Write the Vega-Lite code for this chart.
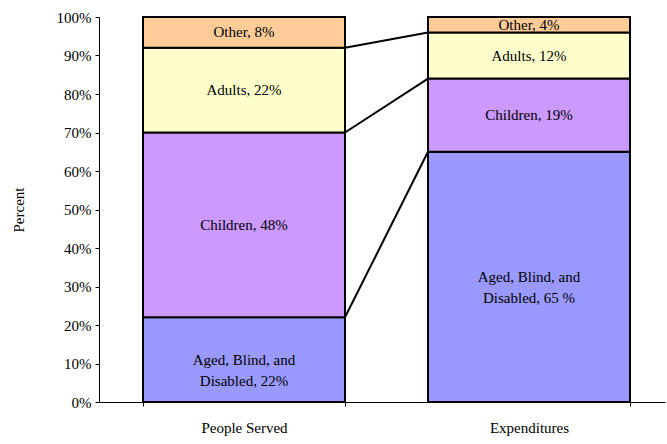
{
  "$schema": "https://vega.github.io/schema/vega-lite/v6.json",
  "width": 566,
  "height": 385,
  "autosize": "none",
  "padding": {"left": 99, "top": 17, "right": 2, "bottom": 42},
  "background": "white",
  "config": {
    "view": {"stroke": null},
    "font": "Liberation Serif",
    "axis": {"labelFont": "Liberation Serif", "titleFont": "Liberation Serif", "labelColor": "black", "titleColor": "black", "domainColor": "black", "tickColor": "black", "titleFontWeight": "normal"}
  },
  "datasets": {
    "segs": [
      {"group": "People Served", "cat": "Aged, Blind, and Disabled", "k": 1, "pct": 22, "label": "Aged, Blind, and\nDisabled, 22%"},
      {"group": "People Served", "cat": "Children", "k": 2, "pct": 48, "label": "Children, 48%"},
      {"group": "People Served", "cat": "Adults", "k": 3, "pct": 22, "label": "Adults, 22%"},
      {"group": "People Served", "cat": "Other", "k": 4, "pct": 8, "label": "Other, 8%"},
      {"group": "Expenditures", "cat": "Aged, Blind, and Disabled", "k": 1, "pct": 65, "label": "Aged, Blind, and\nDisabled, 65 %"},
      {"group": "Expenditures", "cat": "Children", "k": 2, "pct": 19, "label": "Children, 19%"},
      {"group": "Expenditures", "cat": "Adults", "k": 3, "pct": 12, "label": "Adults, 12%"},
      {"group": "Expenditures", "cat": "Other", "k": 4, "pct": 4, "label": "Other, 4%"}
    ],
    "links": [
      {"from": "People Served", "to": "Expenditures", "a": 22, "b": 65},
      {"from": "People Served", "to": "Expenditures", "a": 70, "b": 84},
      {"from": "People Served", "to": "Expenditures", "a": 92, "b": 96}
    ]
  },
  "layer": [
    {
      "data": {"name": "segs"},
      "mark": {"type": "bar", "stroke": "black", "strokeWidth": 2},
      "encoding": {
        "x": {
          "field": "group", "type": "nominal", "sort": ["People Served", "Expenditures"],
          "scale": {"domain": ["People Served", "Expenditures"], "paddingInner": 0.2912, "paddingOuter": 0.1386, "align": 0.557},
          "axis": {"title": null, "labelAngle": 0, "labelFontSize": 15, "labelPadding": 14, "tickBand": "extent", "tickSize": 4, "domainWidth": 1}
        },
        "y": {
          "field": "pct", "type": "quantitative", "stack": "zero",
          "scale": {"domain": [0, 100], "nice": false},
          "axis": {"title": "Percent", "titleFontSize": 15, "titlePadding": 30, "labelFontSize": 15, "values": [0,10,20,30,40,50,60,70,80,90,100], "labelExpr": "datum.value + '%'", "labelOverlap": false, "grid": false, "tickSize": 4, "labelPadding": 4}
        },
        "color": {
          "field": "cat", "type": "nominal", "legend": null,
          "scale": {"domain": ["Aged, Blind, and Disabled", "Children", "Adults", "Other"], "range": ["#9999FF", "#CC99FF", "#FFFFCC", "#FFCC99"]}
        },
        "order": {"field": "k", "type": "quantitative"}
      }
    },
    {
      "data": {"name": "segs"},
      "mark": {"type": "text", "lineBreak": "\n", "fontSize": 15, "color": "black", "baseline": "middle", "lineHeight": 21},
      "encoding": {
        "x": {"field": "group", "type": "nominal", "sort": ["People Served", "Expenditures"]},
        "y": {"field": "pct", "type": "quantitative", "stack": "zero", "bandPosition": 0.5,
          "axis": {"title": "Percent", "titleFontSize": 15, "titlePadding": 30, "labelFontSize": 15, "values": [0,10,20,30,40,50,60,70,80,90,100], "labelExpr": "datum.value + '%'", "labelOverlap": false, "grid": false, "tickSize": 4, "labelPadding": 4}},
        "text": {"field": "label"},
        "detail": {"field": "cat"},
        "order": {"field": "k", "type": "quantitative"}
      }
    },
    {
      "data": {"name": "links"},
      "mark": {"type": "rule", "color": "black", "strokeWidth": 2},
      "encoding": {
        "x": {"field": "from", "type": "nominal", "bandPosition": 1, "sort": ["People Served", "Expenditures"]},
        "x2": {"field": "to", "bandPosition": 0},
        "y": {"field": "a", "type": "quantitative",
          "axis": {"title": "Percent", "titleFontSize": 15, "titlePadding": 30, "labelFontSize": 15, "values": [0,10,20,30,40,50,60,70,80,90,100], "labelExpr": "datum.value + '%'", "labelOverlap": false, "grid": false, "tickSize": 4, "labelPadding": 4}},
        "y2": {"field": "b"}
      }
    }
  ]
}
